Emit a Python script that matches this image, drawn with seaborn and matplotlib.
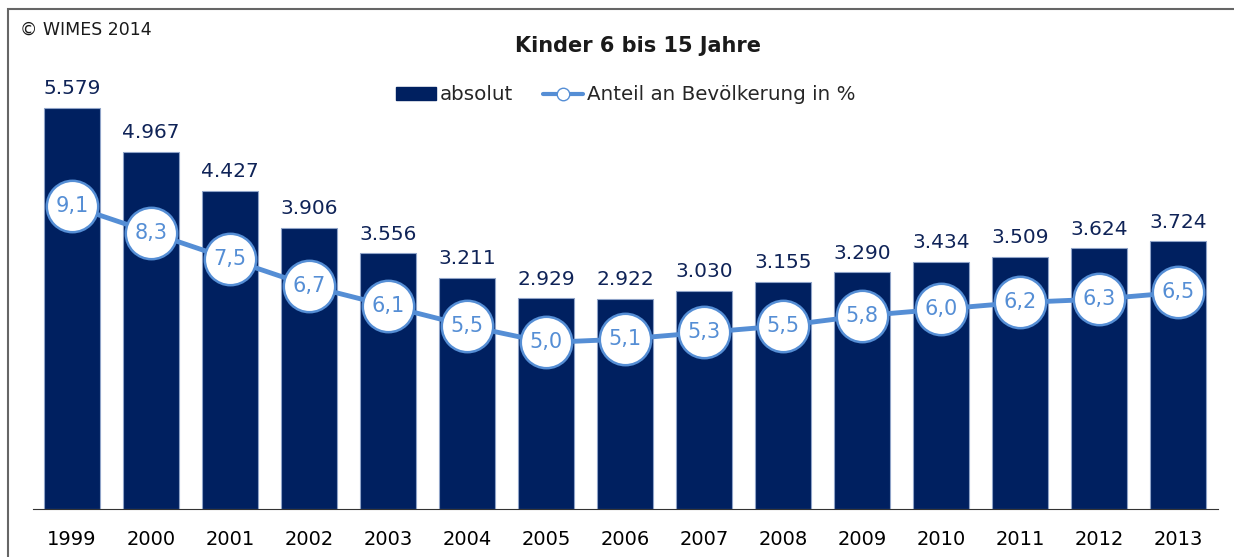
import numpy as np
import pandas as pd
import seaborn as sns
import matplotlib.pyplot as plt
from matplotlib.patches import Patch, Rectangle
from matplotlib.lines import Line2D

# data
years = ["1999", "2000", "2001", "2002", "2003", "2004", "2005", "2006",
         "2007", "2008", "2009", "2010", "2011", "2012", "2013"]
absolut = [5579, 4967, 4427, 3906, 3556, 3211, 2929, 2922,
           3030, 3155, 3290, 3434, 3509, 3624, 3724]
anteil = [9.1, 8.3, 7.5, 6.7, 6.1, 5.5, 5.0, 5.1,
          5.3, 5.5, 5.8, 6.0, 6.2, 6.3, 6.5]

navy = "#002060"
lightblue = "#558ED5"

sns.set_style("white")
plt.rcParams["font.family"] = ["DejaVu Sans"]

df = pd.DataFrame({"jahr": years, "absolut": absolut, "anteil": anteil})

W, H = 1234, 557
fig = plt.figure(figsize=(W / 100, H / 100), dpi=100)
ax = fig.add_axes([32.5 / W, (H - 509) / H, (1217.5 - 32.5) / W, (509 - 60) / H])

# bars
sns.barplot(data=df, x="jahr", y="absolut", color=navy, saturation=1,
            width=0.71, edgecolor="#8fa3c8", linewidth=0.8, ax=ax)
ax.set_xlim(-0.5, len(years) - 0.5)
ax.set_ylim(0, 6245)
for i, v in enumerate(absolut):
    ax.annotate(f"{v:,}".replace(",", "."), (i, v), xytext=(0, 7),
                textcoords="offset points", ha="center", va="bottom",
                fontsize=14.5, color="#0f2357")

# share line on second axis
ax2 = ax.twinx()
sns.lineplot(x=np.arange(len(years)), y=anteil, ax=ax2, color=lightblue,
             linewidth=3.5, marker="o", markersize=37, markerfacecolor="white",
             markeredgecolor=lightblue, markeredgewidth=1.8)
ax2.set_ylim(0, 13.48)
for i, v in enumerate(anteil):
    ax2.text(i, v, f"{v:.1f}".replace(".", ","), ha="center", va="center",
             fontsize=15, color=lightblue)

# axes styling
for a in (ax, ax2):
    for s in ["top", "right", "left"]:
        a.spines[s].set_visible(False)
    a.set_yticks([])
    a.set_ylabel("")
ax2.spines["bottom"].set_visible(False)
ax.spines["bottom"].set_color("#333333")
ax.set_xlabel("")
ax.set_xticks(np.arange(-0.5, len(years)), [""] * (len(years) + 1))
ax.set_xticks(np.arange(len(years)), years, minor=True)
ax.tick_params(axis="x", which="major", direction="inout", length=10,
               width=1, color="#333333")
ax.tick_params(axis="x", which="minor", length=0, labelsize=14,
               pad=15, labelcolor="black")

# title, copyright, legend
fig.text(0.517, 1 - 46 / H, "Kinder 6 bis 15 Jahre", ha="center",
         va="center", fontsize=15, fontweight="bold", color="#1a1a1a")
fig.text(20 / W, 1 - 30 / H, "© WIMES 2014", ha="left", va="center",
         fontsize=12.5, color="#1a1a1a")
handles = [Patch(color=navy),
           Line2D([0], [0], color=lightblue, lw=3, marker="o", markersize=9,
                  markerfacecolor="white", markeredgecolor=lightblue)]
fig.legend(handles, ["absolut", "Anteil an Bevölkerung in %"], loc="center",
           bbox_to_anchor=(0.507, 1 - 95 / H), ncol=2, frameon=False,
           fontsize=14.3, handlelength=2.0, handleheight=0.6,
           handletextpad=0.2, columnspacing=1.5)

# outer frame
fig.patches.append(Rectangle((8 / W, -0.1), 1.1, 1.1 - 9 / H,
                             transform=fig.transFigure, fill=False,
                             edgecolor="#666666", linewidth=1.5))

fig.savefig("out.png", dpi=100)
